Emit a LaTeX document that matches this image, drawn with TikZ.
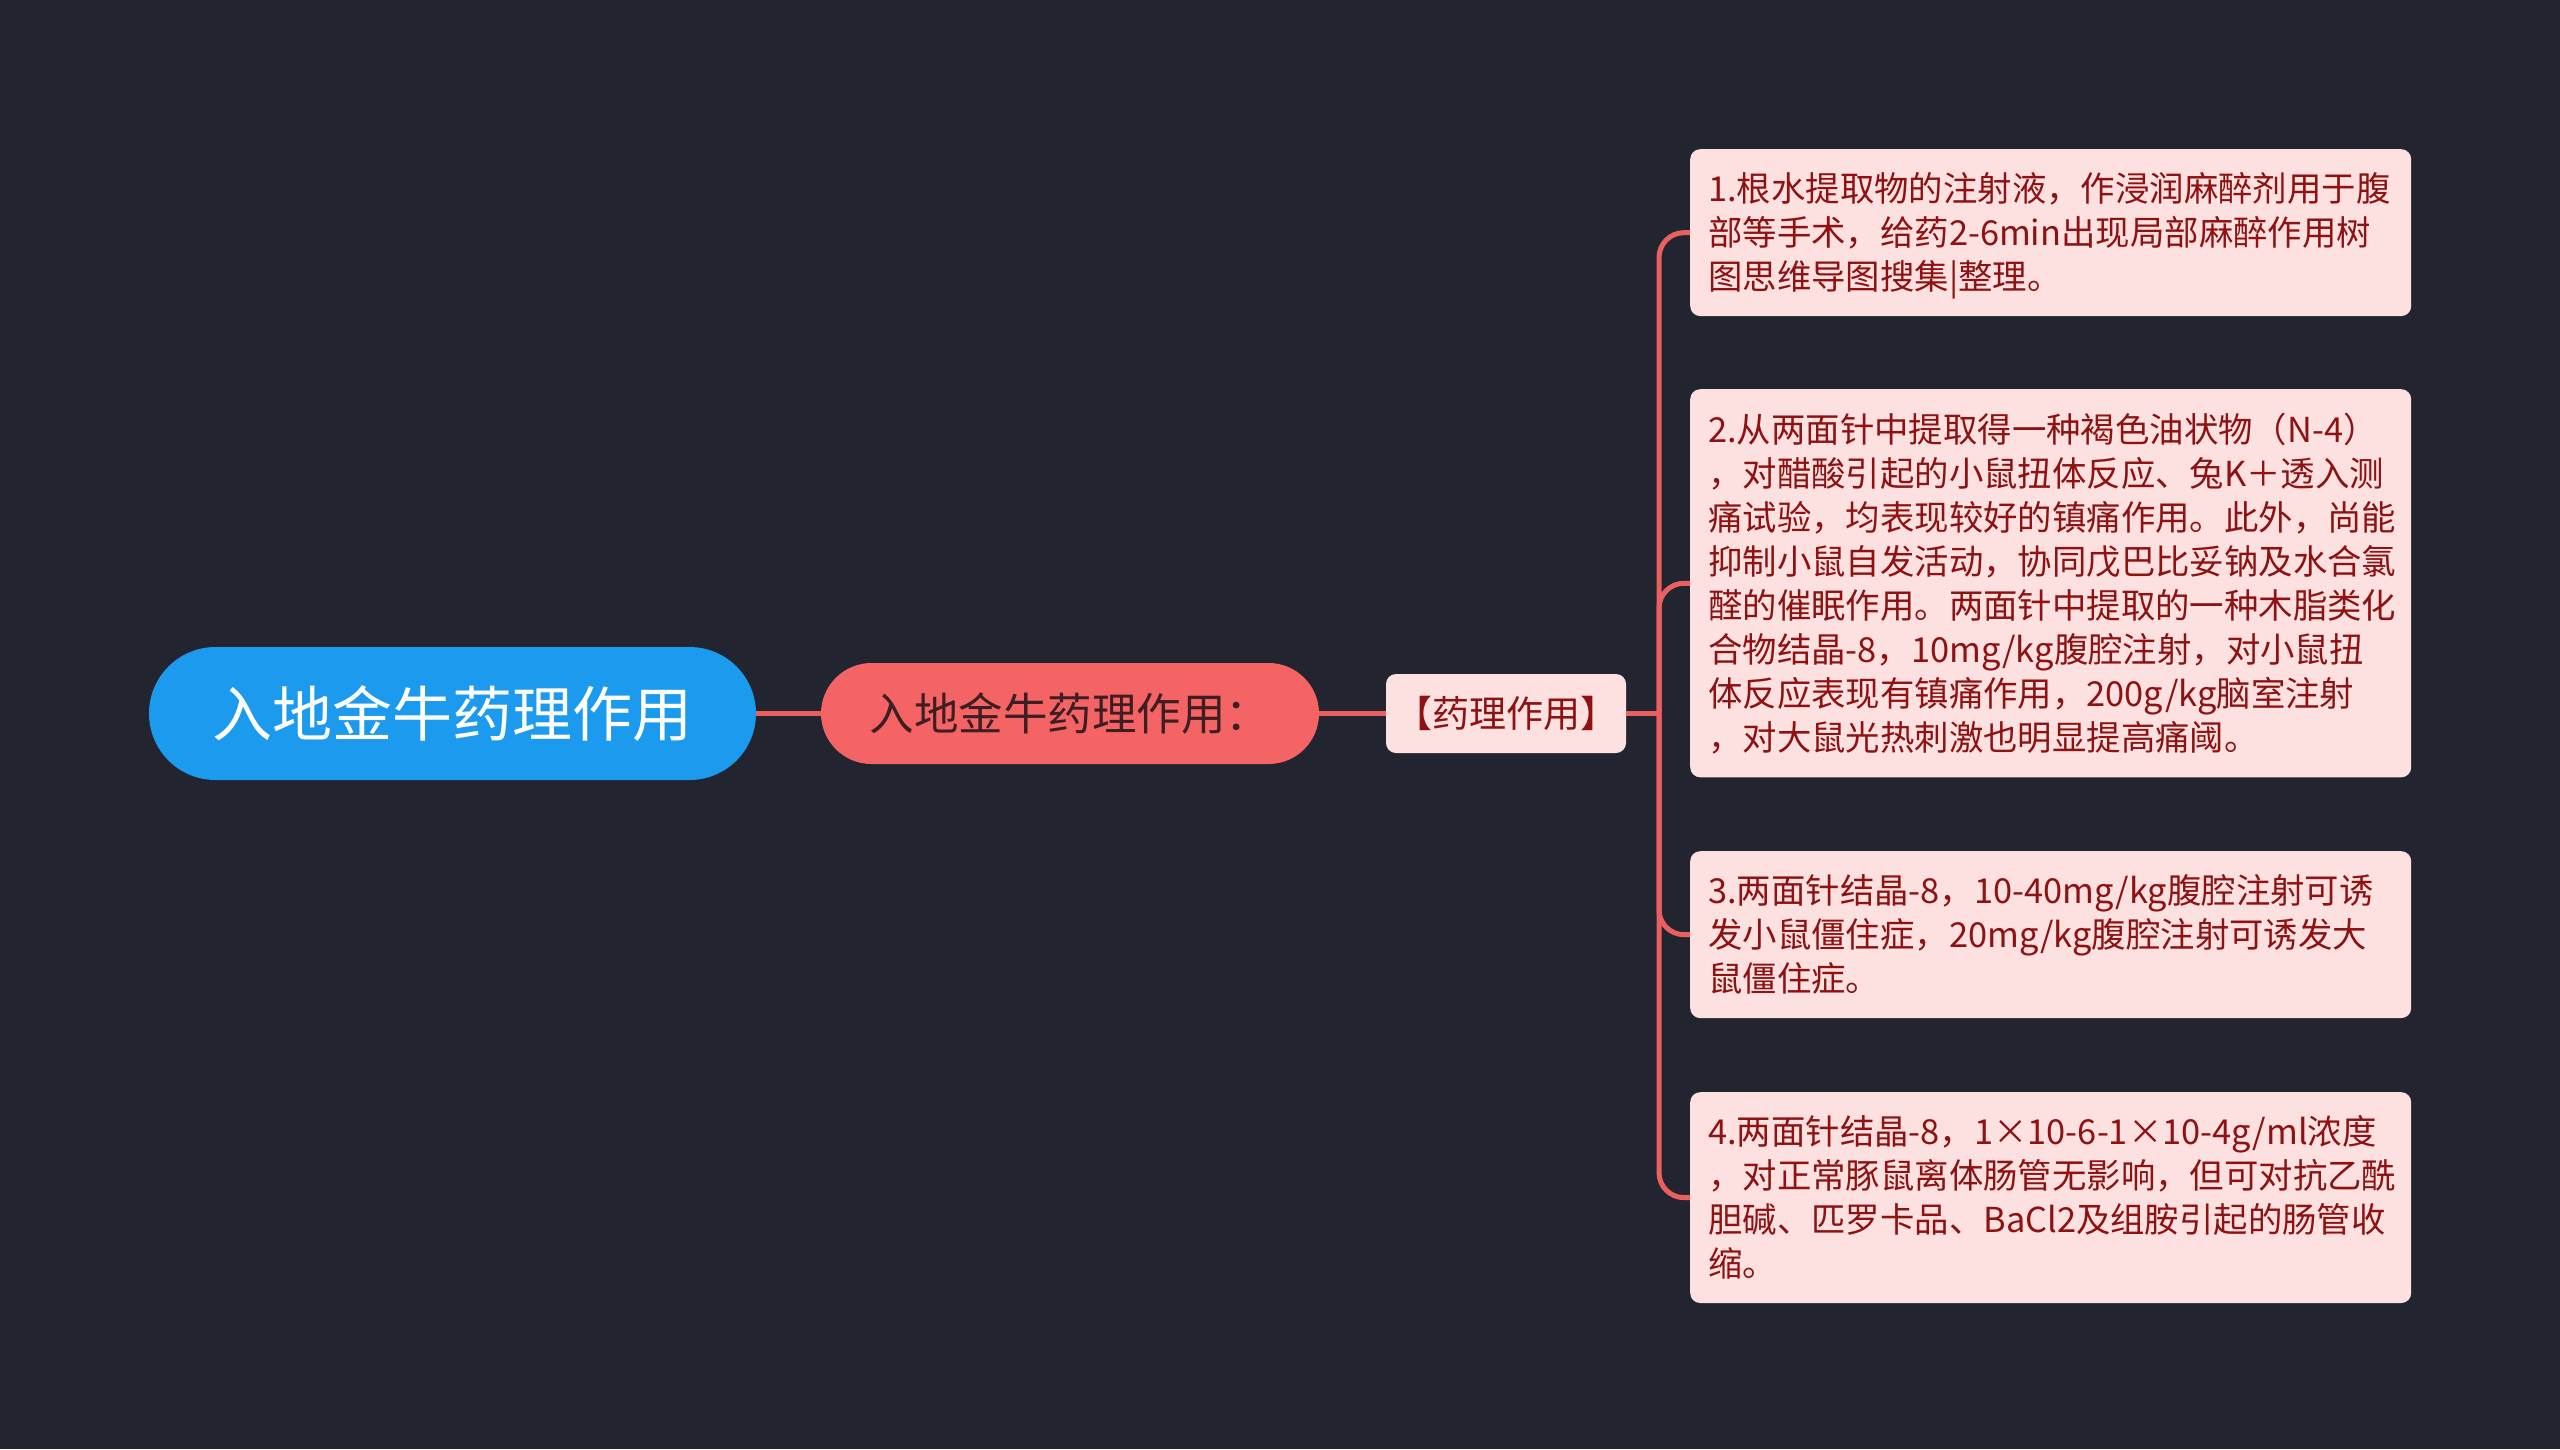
\documentclass[tikz,border=0pt]{standalone}
\usepackage{fontspec}
\setmainfont{Noto Sans CJK SC}
\newfontfamily\cjk{Noto Sans CJK SC}
\usetikzlibrary{shapes.misc}
\definecolor{bgc}{HTML}{22252F}
\definecolor{rootc}{HTML}{1B9AEE}
\definecolor{midc}{HTML}{F56464}
\definecolor{midtext}{HTML}{3E1E22}
\definecolor{leaffill}{HTML}{FDE1E1}
\definecolor{leaftext}{HTML}{8E1212}
\definecolor{linec}{HTML}{EA6060}
\tikzset{
  rootnode/.style={rounded rectangle, fill=rootc, text=white, inner sep=0pt,
    minimum width=607, minimum height=133, font=\cjk\fontsize{60}{66}\selectfont},
  midnode/.style={rounded rectangle, fill=midc, text=midtext, inner sep=0pt,
    minimum width=498, minimum height=101, font=\cjk\fontsize{44.5}{50}\selectfont},
  tagnode/.style={rectangle, rounded corners=10, fill=leaffill, text=leaftext, inner sep=0pt,
    minimum width=240, minimum height=79, font=\cjk\fontsize{37}{42}\selectfont},
  leaf/.style={rectangle, rounded corners=10, fill=leaffill, text=leaftext,
    inner xsep=18, inner ysep=23.5, text width=685, align=left, anchor=north west,
    font=\cjk\fontsize{34.4}{44}\selectfont},
  conn/.style={draw=linec, line width=5},
}
\begin{document}
\begin{tikzpicture}[x=1pt,y=-1pt]
\fill[bgc] (0,0) rectangle (2560,1449);
\useasboundingbox (0,0) rectangle (2560,1449);

\node[rootnode] (root) at (452.5,713.5) {入地金牛药理作用};
\node[midnode] (mid) at (1070,713.5) {入地金牛药理作用：};
\node[tagnode] (tag) at (1506,713.5) {【药理作用】};

\node[leaf] (b1) at (1690,149) {1.根水提取物的注射液，作浸润麻醉剂用于腹\\部等手术，给药2-6min出现局部麻醉作用树\\图思维导图搜集\smash{|}整理。};
\node[leaf] (b2) at (1690,389) {2.从两面针中提取得一种褐色油状物（N-4）\\，对醋酸引起的小鼠扭体反应、兔K＋透入测\\痛试验，均表现较好的镇痛作用。此外，尚能\\抑制小鼠自发活动，协同戊巴比妥钠及水合氯\\醛的催眠作用。两面针中提取的一种木脂类化\\合物结晶-8，10mg/kg腹腔注射，对小鼠扭\\体反应表现有镇痛作用，200g/kg脑室注射\\，对大鼠光热刺激也明显提高痛阈。};
\node[leaf] (b3) at (1690,851) {3.两面针结晶-8，10-40mg/kg腹腔注射可诱\\发小鼠僵住症，20mg/kg腹腔注射可诱发大\\鼠僵住症。};
\node[leaf] (b4) at (1690,1092) {4.两面针结晶-8，1×10-6-1×10-4g/ml浓度\\，对正常豚鼠离体肠管无影响，但可对抗乙酰\\胆碱、匹罗卡品、BaCl2及组胺引起的肠管收\\缩。};

\coordinate (j) at (1659,713.5);
\draw[conn] (root.east) -- (mid.west);
\draw[conn] (mid.east) -- (tag.west);
\draw[conn] (tag.east) -- (j);
\foreach \b in {b1,b2,b3,b4}
  \draw[conn, rounded corners=25] (j) |- (\b.west);
\end{tikzpicture}
\end{document}
